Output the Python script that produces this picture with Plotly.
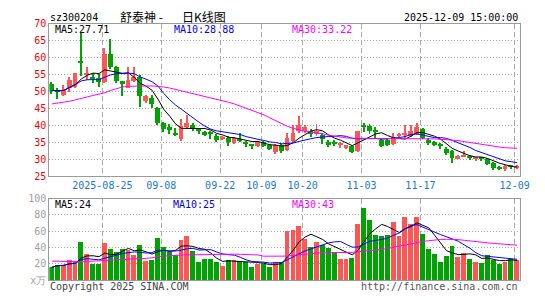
import plotly.graph_objects as go
import pandas as pd

W, H = 545, 300

# ---------------- data ----------------
opens = [52.2, 50.2, 49.2, 51.0, 51.3, 59.2, 55.0, 54.3, 54.2, 52.9,
         61.2, 57.2, 53.1, 51.2, 53.2, 54.3, 47.3, 48.2, 45.1, 40.7,
         39.6, 37.9, 36.0, 39.6, 40.3, 38.8, 38.2, 37.7, 37.0, 36.0,
         36.5, 34.8, 36.1, 34.9, 34.2, 34.0, 35.1, 34.2, 32.3, 34.3,
         32.9, 35.6, 38.4, 38.4, 38.6, 37.5, 37.2, 35.3, 34.9, 34.4,
         33.4, 33.9, 32.5, 39.9, 39.8, 38.6, 35.7, 35.75, 34.5, 37.0,
         37.3, 37.0, 37.5, 38.9, 35.8, 35.1, 34.4, 33.2, 32.5, 30.2,
         31.0, 30.7, 30.2, 30.4, 30.2, 29.0, 27.6, 27.2, 28.1, 27.6]
highs = [53.0, 51.0, 52.0, 54.3, 55.7, 67.3, 57.3, 55.5, 55.3, 62.8,
         65.7, 57.6, 53.2, 57.2, 57.2, 55.1, 49.2, 49.2, 45.4, 41.1,
         40.5, 39.3, 41.9, 43.1, 40.75, 39.3, 38.6, 38.4, 37.5, 37.0,
         37.0, 36.7, 37.9, 35.6, 34.6, 35.6, 35.6, 34.6, 34.6, 34.8,
         37.9, 40.3, 42.9, 40.3, 38.9, 40.5, 37.9, 35.75, 35.75, 35.1,
         34.4, 34.2, 38.6, 40.9, 40.5, 39.5, 36.3, 36.3, 37.8, 37.9,
         40.1, 40.3, 40.75, 39.2, 36.5, 35.6, 34.9, 33.7, 32.9, 31.3,
         32.7, 31.3, 30.8, 30.8, 30.4, 29.4, 28.2, 28.5, 28.4, 28.3]
lows = [49.5, 47.8, 48.7, 50.1, 51.0, 54.8, 53.6, 52.5, 51.5, 52.5,
        56.7, 52.6, 48.9, 51.0, 52.9, 45.4, 46.8, 45.1, 40.2, 38.3,
        37.5, 37.1, 35.5, 39.1, 38.4, 37.7, 37.0, 36.0, 35.1, 35.7,
        34.0, 34.5, 35.1, 33.7, 33.2, 33.7, 33.7, 33.0, 31.8, 32.1,
        32.5, 35.1, 37.9, 37.9, 36.8, 37.0, 34.6, 33.7, 33.9, 33.5,
        33.2, 32.0, 32.3, 38.2, 37.6, 36.3, 33.7, 33.9, 34.2, 36.5,
        36.5, 36.7, 37.2, 36.0, 34.3, 34.0, 33.2, 31.3, 29.0, 30.1,
        30.7, 29.9, 29.6, 29.6, 28.5, 26.9, 27.1, 26.6, 27.2, 27.3]
closes = [50.3, 50.0, 50.6, 53.6, 55.6, 58.5, 55.4, 53.9, 52.9, 61.2,
          57.2, 53.1, 52.3, 53.6, 54.3, 48.7, 48.9, 46.3, 40.7, 39.0,
          38.7, 37.4, 39.8, 40.75, 38.9, 38.5, 37.3, 37.6, 35.75, 36.7,
          35.1, 36.5, 35.6, 34.8, 34.1, 35.3, 34.0, 33.2, 34.2, 32.5,
          36.5, 37.9, 40.1, 39.5, 37.5, 38.6, 36.0, 34.2, 34.8, 34.6,
          34.2, 32.3, 38.4, 39.8, 38.4, 38.4, 34.1, 34.2, 36.7, 37.2,
          37.5, 38.6, 39.5, 36.5, 34.9, 34.4, 34.3, 32.0, 30.4, 31.0,
          31.2, 30.5, 30.35, 30.3, 28.8, 27.5, 27.3, 28.0, 27.9, 27.85]
volumes = [16.1, 19.6, 19.2, 25.5, 23.9, 47.8, 32.9, 20.0, 20.0, 45.9,
           38.4, 34.9, 38.8, 37.3, 31.4, 43.5, 23.5, 24.7, 51.8, 40.8,
           34.9, 31.4, 50.2, 54.1, 36.5, 22.4, 26.7, 26.7, 22.7, 17.3,
           25.5, 25.5, 24.3, 22.7, 16.1, 20.4, 20.4, 16.1, 22.4, 23.1,
           60.8, 62.4, 67.0, 51.4, 40.8, 46.7, 44.0, 40.0, 34.9, 26.7,
           26.0, 28.2, 69.0, 89.0, 73.7, 56.0, 54.9, 56.0, 71.4, 54.9,
           78.4, 68.8, 78.4, 57.3, 38.4, 32.8, 23.3, 30.2, 42.0, 29.0,
           34.0, 27.0, 23.1, 21.0, 31.0, 25.5, 20.0, 22.4, 27.0, 25.5]
ma30_price = [46.3, 46.5, 46.8, 47.1, 47.5, 48.0, 48.4, 48.8, 49.2, 49.6,
              50.3, 50.9, 51.3, 51.5, 51.6, 51.6, 51.6, 51.6, 51.5, 51.3,
              51.0, 50.6, 50.2, 49.8, 49.4, 48.9, 48.4, 48.0, 47.6, 47.2,
              46.8, 46.3, 45.7, 45.1, 44.5, 43.9, 43.1, 42.2, 41.3, 40.5,
              39.7, 39.1, 38.6, 38.3, 38.0, 37.8, 37.5, 37.1, 36.8, 36.5,
              36.3, 36.2, 36.2, 36.2, 36.2, 36.1, 36.1, 36.0, 36.0, 36.0,
              36.0, 36.0, 36.0, 36.0, 36.0, 36.0, 35.9, 35.8, 35.7, 35.5,
              35.2, 34.9, 34.6, 34.4, 34.1, 33.8, 33.6, 33.4, 33.3, 33.22]
ma30_vol = [23.5, 23.3, 23.0, 22.6, 22.5, 22.6, 23.0, 23.5, 24.0, 24.2,
            24.3, 24.6, 25.5, 26.2, 26.3, 26.3, 26.5, 27.5, 29.0, 29.8,
            30.2, 30.6, 31.0, 31.2, 31.3, 31.4, 31.5, 31.6, 31.8, 32.0,
            32.0, 32.0, 31.8, 31.6, 31.4, 31.0, 29.5, 29.4, 29.4, 29.4,
            29.6, 30.5, 31.4, 32.3, 33.0, 33.3, 33.6, 33.7, 33.7, 33.7,
            33.8, 34.2, 35.0, 35.5, 36.2, 36.9, 37.8, 39.0, 40.5, 42.0,
            43.5, 45.0, 46.5, 47.5, 48.5, 49.5, 50.0, 50.2, 50.2, 49.8,
            49.0, 48.0, 47.0, 46.3, 45.9, 45.2, 44.7, 44.3, 44.0, 43.0]

tick_idx = [9, 19, 29, 36, 43, 53, 63, 79]
tick_labels = ["2025-08-25", "09-08", "09-22", "10-09", "10-20", "11-03", "11-17", "12-09"]
price_ticks = [25, 30, 35, 40, 45, 50, 55, 60, 65, 70]
vol_ticks = [0, 20, 40, 60, 80, 100]
vol_tick_text = ["x万", "20", "40", "60", "80", "100"]
price_ma_text = ["MA5:27.71", "MA10:28.88", "MA30:33.22"]
vol_ma_text = ["MA5:24", "MA10:25", "MA30:43"]
code = "sz300204"
title_name = "舒泰神 -"
title_kind = "日K线图"
stamp = "2025-12-09 15:00:00"
copyright_text = "Copyright 2025 SINA.COM"
url_text = "http://finance.sina.com.cn"

# ---------------- styling ----------------
RED = "#ff5555"
GREEN = "#00a400"
MONO = "DejaVu Sans Mono"
CJK = "Noto Sans CJK SC"
GRID = "#a8a8a8"
FRAME = "#9a9a9a"

n = len(closes)
x = list(range(n))
up = [c >= o for o, c in zip(opens, closes)]
colors = [RED if u else GREEN for u in up]

body_base = [min(o, c) for o, c in zip(opens, closes)]
body_h = [max(abs(c - o), 0.3) for o, c in zip(opens, closes)]
wick_h = [h - l for h, l in zip(highs, lows)]

cs = pd.Series(closes)
vs = pd.Series(volumes)
ma5 = cs.rolling(5, min_periods=1).mean()
ma10 = cs.rolling(10, min_periods=1).mean()
vma5 = vs.rolling(5, min_periods=1).mean()
vma10 = vs.rolling(10, min_periods=1).mean()

fig = go.Figure()
# wicks
fig.add_trace(go.Bar(x=x, y=wick_h, base=lows, width=0.17, marker=dict(color=colors, line=dict(width=0)),
                     xaxis="x", yaxis="y", hoverinfo="skip"))
# bodies
fig.add_trace(go.Bar(x=x, y=body_h, base=body_base, width=0.83, marker=dict(color=colors, line=dict(width=0)),
                     xaxis="x", yaxis="y", hoverinfo="skip"))
for series, col in [(ma5, "#000000"), (ma10, "#0000ff"), (ma30_price, "#ff00ff")]:
    fig.add_trace(go.Scatter(x=x, y=list(series), mode="lines", line=dict(color=col, width=1),
                             xaxis="x", yaxis="y", hoverinfo="skip"))
# volume
fig.add_trace(go.Bar(x=x, y=volumes, width=0.83, marker=dict(color=colors, line=dict(width=0)),
                     xaxis="x2", yaxis="y2", hoverinfo="skip"))
for series, col in [(vma5, "#000000"), (vma10, "#0000ff"), (ma30_vol, "#ff00ff")]:
    fig.add_trace(go.Scatter(x=x, y=list(series), mode="lines", line=dict(color=col, width=1),
                             xaxis="x2", yaxis="y2", hoverinfo="skip"))

x0, x1 = 50.3, 529.3
xr = [-0.42, n - 1 + 0.42]
tickpos = [i - 0.42 for i in tick_idx]


def ydom(top_px, bot_px):
    return [1 - bot_px / H, 1 - top_px / H]


common_x = dict(range=xr, domain=[x0 / W, x1 / W], tickmode="array", tickvals=tickpos,
                showgrid=True, gridcolor=GRID, griddash="5px,3px", gridwidth=1,
                showline=True, linecolor=FRAME, linewidth=1, mirror=True, ticks="",
                zeroline=False, fixedrange=True)

fig.update_layout(
    width=W, height=H, margin=dict(l=0, r=0, t=0, b=0),
    paper_bgcolor="white", plot_bgcolor="white",
    showlegend=False, barmode="overlay", bargap=0,
    xaxis=dict(**common_x, anchor="y", ticktext=tick_labels,
               tickfont=dict(family=MONO, size=10, color="#1a7ac9")),
    xaxis2=dict(**common_x, anchor="y2", showticklabels=False),
    yaxis=dict(domain=ydom(18.3, 177.3), range=[25, 70], tickmode="array", tickvals=price_ticks,
               showgrid=True, gridcolor=GRID, griddash="1px,2px", showline=True, linecolor=FRAME,
               linewidth=1, mirror=True, ticks="", zeroline=False,
               tickfont=dict(family=MONO, size=10, color="#ff0000")),
    yaxis2=dict(domain=ydom(200.7, 285.7), range=[0, 100], tickmode="array", tickvals=vol_ticks,
                ticktext=vol_tick_text, showgrid=True, gridcolor=GRID, griddash="1px,2px",
                showline=True, linecolor=FRAME, linewidth=1, mirror=True, ticks="", zeroline=False,
                tickfont=dict(family=MONO, size=10, color="#a0a0a0")),
)


def px_ann(text, xp, yp, color="#000", size=10, family=MONO, anchor="left"):
    fig.add_annotation(text=text, x=xp / W, y=1 - yp / H, xref="paper", yref="paper",
                       xanchor=anchor, yanchor="middle", showarrow=False,
                       font=dict(family=family, size=size, color=color))


px_ann(code, 49, 11.5)
px_ann(title_name, 120, 10.5, size=12, family=CJK)
px_ann(title_kind, 183, 10.5, size=12, family=CJK)
px_ann(stamp, 530, 12, anchor="right")

for txt, xp, col in zip(price_ma_text, [54, 175, 295], ["#000000", "#0000ff", "#ff00ff"]):
    px_ann(txt, xp, 24, color=col)
for txt, xp, col in zip(vol_ma_text, [54, 174, 295], ["#000000", "#0000ff", "#ff00ff"]):
    px_ann(txt, xp, 207, color=col)

px_ann(copyright_text, 49, 292.5, color="#444444")
px_ann(url_text, 530, 292.5, color="#555555", anchor="right")

fig.write_html("out.html")
